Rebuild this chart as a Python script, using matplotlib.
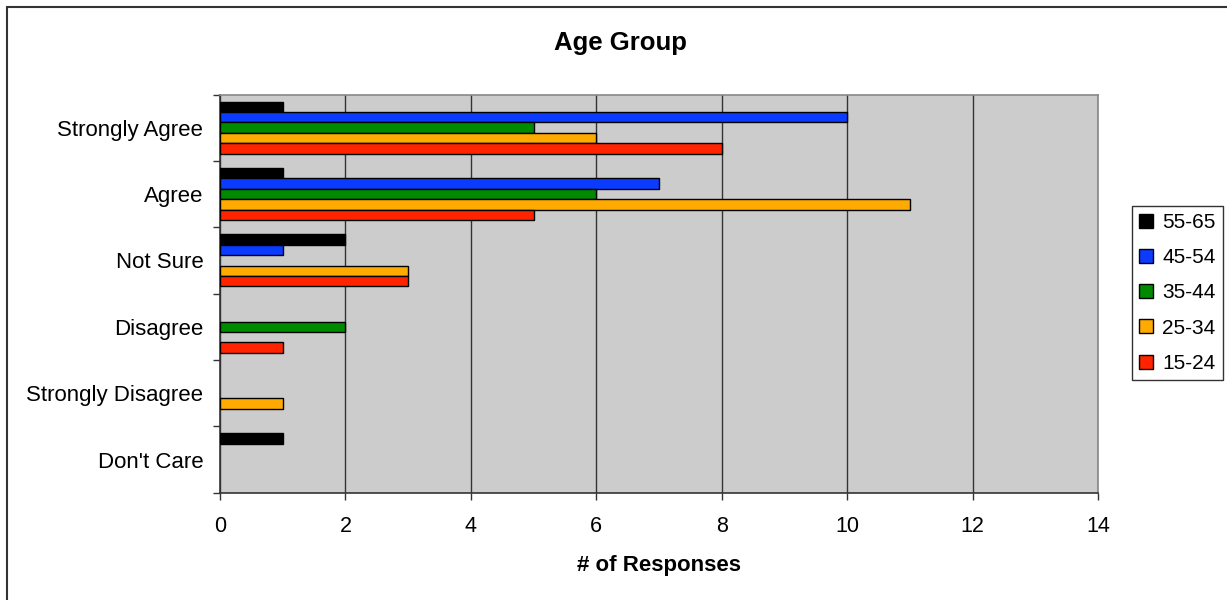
import numpy as np
import matplotlib.pyplot as plt
from matplotlib.patches import Rectangle

plt.rcParams["font.family"] = ["Liberation Sans", "DejaVu Sans"]

# survey answers, top to bottom
categories = ['Strongly Agree', 'Agree', 'Not Sure', 'Disagree', 'Strongly Disagree', "Don't Care"]
age_groups = ['55-65', '45-54', '35-44', '25-34', '15-24']
colors = ['#000000', '#0A3BFF', '#008A00', '#FFAA00', '#FF2400']

# number of responses per age group, in category order
resp_55_65 = [1, 1, 2, 0, 0, 1]
resp_45_54 = [10, 7, 1, 0, 0, 0]
resp_35_44 = [5, 6, 0, 2, 0, 0]
resp_25_34 = [6, 11, 3, 0, 1, 0]
resp_15_24 = [8, 5, 3, 1, 0, 0]
series = [resp_55_65, resp_45_54, resp_35_44, resp_25_34, resp_15_24]

x_ticks = [0, 2, 4, 6, 8, 10, 12, 14]

fig = plt.figure(figsize=(12.27, 6.0), dpi=100)
ax = fig.add_axes([220/1227, 1 - 492.7/600, (1098 - 220)/1227, (492.7 - 94.5)/600])
ax.set_facecolor('#CCCCCC')

n_cat = len(categories)
centers = np.arange(n_cat)[::-1].astype(float)
h = 0.157
for j, (vals, name, c) in enumerate(zip(series, age_groups, colors)):
    vals = np.array(vals)
    # empty bars get no outline
    lw = np.where(vals > 0, 1.0, 0.0)
    ax.barh(centers + (2 - j) * h, vals, height=h, color=c, edgecolor='black',
            linewidth=lw, label=name, zorder=3)

ax.set_xlim(0, 14)
ax.set_ylim(-0.5, n_cat - 0.5)
ax.set_xticks(x_ticks)
ax.set_xticklabels([str(t) for t in x_ticks], fontsize=15.5)
ax.set_yticks(centers)
ax.set_yticklabels(categories, fontsize=16)
ax.set_yticks(np.arange(n_cat + 1) - 0.5, minor=True)
ax.tick_params(axis='y', which='major', length=0, pad=12)
ax.tick_params(axis='y', which='minor', length=5, width=1, direction='out', color='#333333')
ax.tick_params(axis='x', length=5, width=1, direction='out', color='#333333', pad=12)
ax.xaxis.grid(True, color='#333333', linewidth=1, zorder=1)
ax.set_axisbelow(True)

for side in ['left', 'bottom']:
    ax.spines[side].set_color('#333333')
    ax.spines[side].set_linewidth(1.2)
for side in ['top', 'right']:
    ax.spines[side].set_color('#888888')
    ax.spines[side].set_linewidth(1.2)

handles, labels = ax.get_legend_handles_labels()
leg = fig.legend(handles, labels, loc='center left', bbox_to_anchor=(1132/1227, 1 - 293/600),
                 fontsize=15, frameon=True, fancybox=False, edgecolor='black',
                 handlelength=0.65, handleheight=0.65, handletextpad=0.45, labelspacing=0.78,
                 borderpad=0.35, borderaxespad=0)
leg.get_frame().set_linewidth(1.0)
for p in leg.get_patches():
    p.set_linewidth(1.0)
    p.set_edgecolor('black')

fig.text(620/1227, 1 - 43/600, 'Age Group', ha='center', va='center', fontsize=18.5, fontweight='bold')
fig.text(659/1227, 1 - 565/600, '# of Responses', ha='center', va='center', fontsize=16, fontweight='bold')

# outer chart frame
fig.patches.append(Rectangle((7/1227, -0.1), 1.2, 1.1 - 7/600, transform=fig.transFigure,
                             fill=False, edgecolor='#333333', linewidth=1.5))

fig.savefig('out.png', dpi=100)
